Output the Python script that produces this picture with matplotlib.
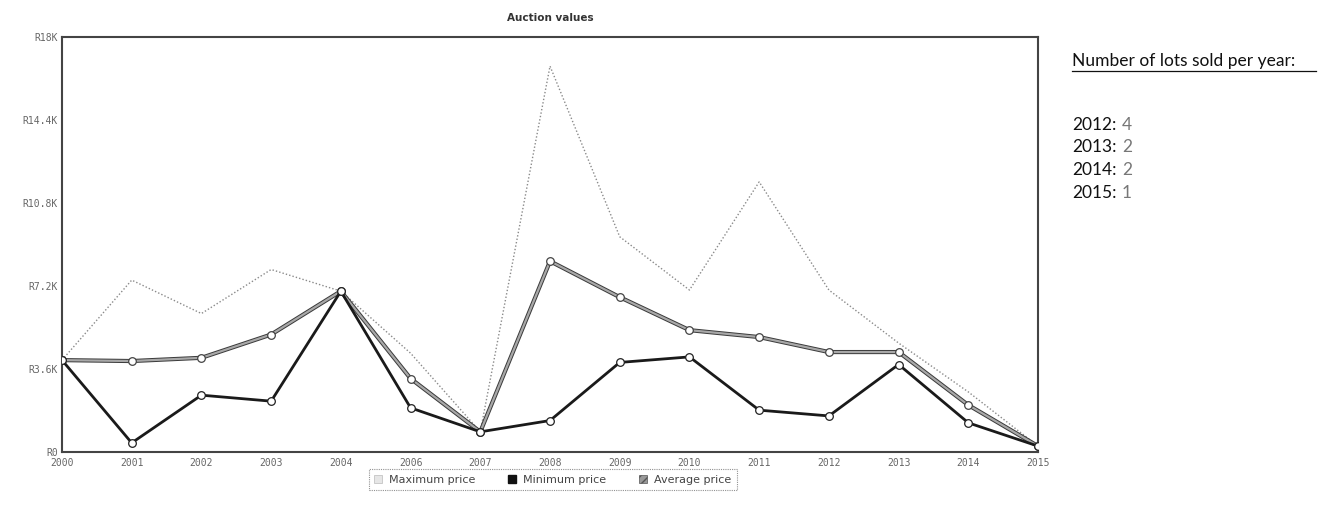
import matplotlib
matplotlib.use("Agg")
import matplotlib.pyplot as plt
import matplotlib.patheffects as pe
from matplotlib.patches import Patch

years = ["2000", "2001", "2002", "2003", "2004", "2006", "2007", "2008",
         "2009", "2010", "2011", "2012", "2013", "2014", "2015"]
max_price = [3.99, 7.46, 6.01, 7.92, 6.98, 4.29, 0.88, 16.74,
             9.34, 7.03, 11.72, 7.03, 4.73, 2.61, 0.26]
min_price = [3.99, 0.40, 2.47, 2.21, 6.98, 1.92, 0.88, 1.37,
             3.89, 4.13, 1.82, 1.57, 3.80, 1.27, 0.26]
avg_price = [3.99, 3.95, 4.09, 5.10, 6.98, 3.19, 0.88, 8.28,
             6.72, 5.29, 4.99, 4.34, 4.34, 2.04, 0.26]
y_ticks = [0, 3.6, 7.2, 10.8, 14.4, 18]
y_tick_labels = ["R0", "R3.6K", "R7.2K", "R10.8K", "R14.4K", "R18K"]
lots_years = ["2012", "2013", "2014", "2015"]
lots_counts = [4, 2, 2, 1]

fig = plt.figure(figsize=(13.19, 5.08), dpi=100)
ax = fig.add_axes([0.047, 0.110, 0.740, 0.817])

x = list(range(len(years)))

ax.plot(x, max_price, color="#8a8a8a", lw=1.0, ls=(0, (1, 1.5)), zorder=2)
ax.plot(x, avg_price, color="#a8a8a8", lw=1.6, zorder=3,
        path_effects=[pe.Stroke(linewidth=3.0, foreground="#3a3a3a"), pe.Normal()])
ax.plot(x, avg_price, ls="none", zorder=3.5,
        marker="o", ms=5.5, mfc="white", mec="#444444", mew=0.9)
ax.plot(x, min_price, color="#1a1a1a", lw=2.0, zorder=4,
        marker="o", ms=5.5, mfc="white", mec="#222222", mew=0.9)

ax.set_xlim(0, len(years) - 1)
ax.set_ylim(0, 18)
ax.set_xticks(x)
ax.set_xticklabels(years)
ax.set_yticks(y_ticks)
ax.set_yticklabels(y_tick_labels)
ax.tick_params(length=0, labelsize=7, labelcolor="#666666")
ax.tick_params(axis="x", pad=4)
ax.tick_params(axis="y", pad=3)
for lbl in ax.get_xticklabels() + ax.get_yticklabels():
    lbl.set_family("DejaVu Sans Mono")
for s in ax.spines.values():
    s.set_color("#444444")
    s.set_linewidth(1.5)

fig.text(0.417, 0.965, "Auction values", fontsize=7.5, fontweight="bold",
         color="#333333", ha="center", va="center")

handles = [
    Patch(facecolor="#e6e6e6", edgecolor="#bbbbbb", lw=0.5, label="Maximum price"),
    Patch(facecolor="#111111", edgecolor="#111111", label="Minimum price"),
    Patch(facecolor="#999999", edgecolor="#555555", hatch="////", lw=0.5, label="Average price"),
]
leg = fig.legend(handles=handles, loc="center", bbox_to_anchor=(0.419, 0.056),
                 ncol=3, fontsize=8, frameon=True, fancybox=False,
                 handlelength=0.7, handleheight=0.7, handletextpad=0.6,
                 columnspacing=3.0, borderpad=0.5, labelcolor="#444444")
leg.get_frame().set_edgecolor("#777777")
leg.get_frame().set_linestyle((0, (1, 1)))
leg.get_frame().set_linewidth(0.8)

fig.text(0.813, 0.870, "Number of lots sold per year:", fontsize=12.5,
         family="Lato", color="#111111", va="baseline")
fig.add_artist(plt.Line2D([0.813, 0.998], [0.860, 0.860], color="#111111", lw=0.9))
for i, (yr, n) in enumerate(zip(lots_years, lots_counts)):
    yy = 0.745 - i * 0.045
    fig.text(0.813, yy, f"{yr}:", fontsize=12.5, family="Lato",
             color="#111111", va="baseline")
    fig.text(0.8505, yy, f"{n}", fontsize=12.5, family="Lato",
             color="#777777", va="baseline")

fig.savefig("out.png", dpi=100, facecolor="white")
